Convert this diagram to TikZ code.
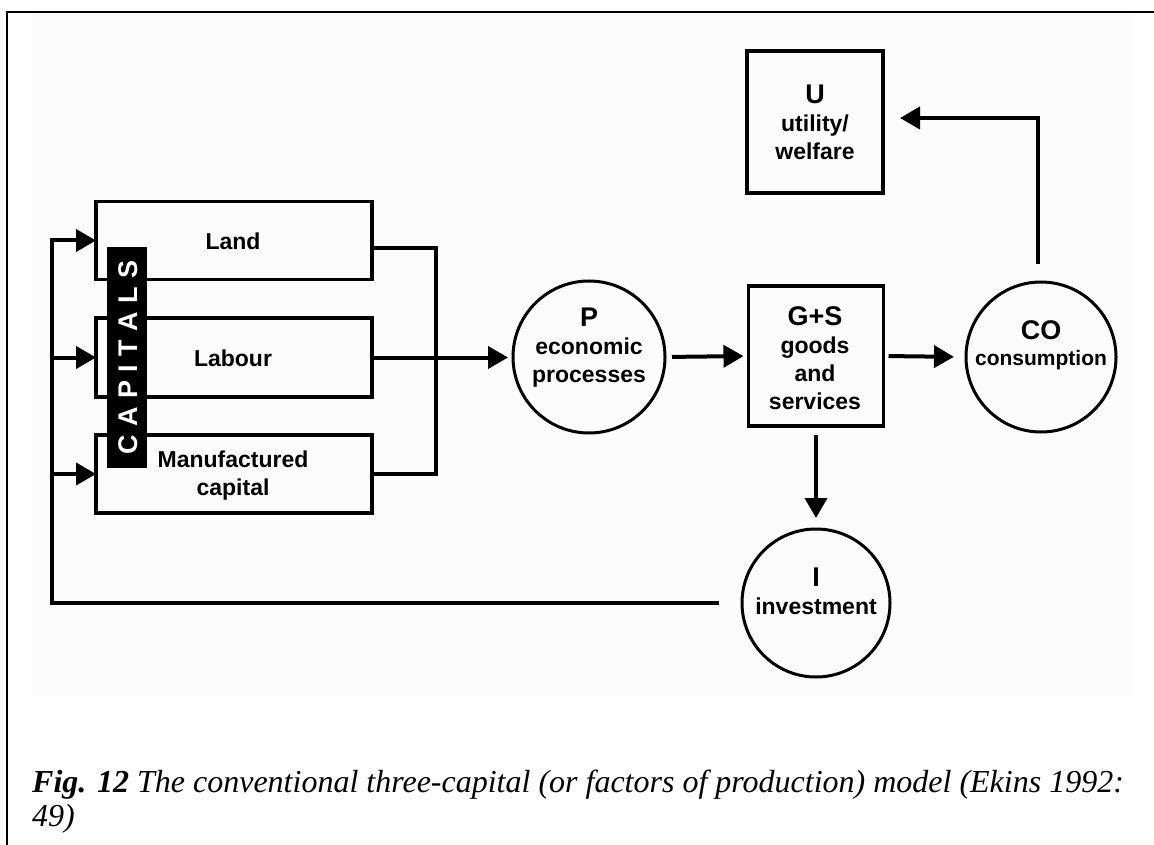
\documentclass[tikz,border=0pt]{standalone}
\usepackage{fontspec}
\setmainfont{Liberation Serif}
\newfontfamily\arialf{Liberation Sans}
\usetikzlibrary{arrows.meta}
\definecolor{bgpale}{RGB}{252,252,252}
\tikzset{
  capbox/.style={draw, line width=3.8pt, inner sep=0pt, outer sep=0pt},
  proc/.style={draw, circle, line width=3pt, inner sep=0pt, outer sep=0pt, minimum size=#1},
  lbl/.style={font=\arialf\bfseries\fontsize{23}{28}\selectfont, align=center, inner sep=0pt},
  conn/.style={line width=4pt, -{Triangle[length=20pt,width=22pt]}},
  plainline/.style={line width=4pt},
  capt/.style={font=\fontsize{32}{34}\selectfont\itshape, anchor=base west, inner sep=0pt}
}
\newcommand{\hd}[1]{{\fontsize{27}{28}\selectfont #1}}
\newcommand{\gp}{\hspace{8.5pt}}
\begin{document}
\begin{tikzpicture}[x=1pt,y=-1pt]
\useasboundingbox (0,0) rectangle (1154,845);
\fill[bgpale] (32,13) rectangle (1133,697);
\draw[line width=2pt] (1160,12) -- (7,12) -- (7,850);

% capital boxes
\node[capbox, minimum width=276pt, minimum height=78pt] (Land) at (234,240.5) {};
\node[capbox, minimum width=276pt, minimum height=79pt] (Lab) at (234,357.5) {};
\node[capbox, minimum width=276pt, minimum height=78pt] (Manu) at (234,474) {};
\node[lbl] (tLand) at (233,241.5) {Land};
\node[lbl] (tLab) at (233,358.5) {Labour};
\node[lbl] (tManu) at (233,476) {Manufactured\\capital};

% CAPITALS bar
\node[fill=black, minimum width=40pt, minimum height=221pt, inner sep=0pt] (bar) at (127,357.5) {};
\node[rotate=90, text=white, font=\arialf\bfseries\fontsize{27}{28}\selectfont, inner sep=0pt] (tbar) at (128,357.5) {C\gp A\gp P\gp I\gp T\gp A\gp L\gp S};

% process nodes
\node[proc=152pt] (P) at (589,357) {};
\node[lbl] (tP) at (589,348) {\hd{P}\\economic\\processes};
\node[capbox, minimum width=135pt, minimum height=140pt] (GS) at (816,356) {};
\node[lbl] (tGS) at (815,358) {\hd{G+S}\\goods\\and\\services};
\node[capbox, minimum width=136pt, minimum height=142pt] (U) at (815,122) {};
\node[lbl] (tU) at (815,122) {\hd{U}\\utility/\\welfare};
\node[proc=150pt] (CO) at (1041,357) {};
\node[lbl, font=\arialf\bfseries\fontsize{21}{26}\selectfont] (tCO) at (1041,345) {\hd{CO}\\consumption};
\node[proc=148pt] (I) at (816,603) {};
\node[lbl] (tI) at (816,591) {\hd{I}\\investment};

% connectors
\coordinate (cx) at (436,358);
\coordinate (fb) at (52,603);
\draw[plainline] ([yshift=-8pt]Land.east) -| (cx) |- (Manu.east);
\draw[conn, shorten >=5pt] (Lab.east) -- (Lab.east -| P.west);
\draw[conn, shorten <=7pt, shorten >=5pt] (P.east) -- (GS.west);
\draw[conn, shorten <=5pt, shorten >=12pt] (GS.east) -- (CO.west);
\draw[conn, shorten <=9pt, shorten >=11pt] (GS.south) -- (I.north);
\draw[conn, shorten <=18pt, shorten >=17pt] ([xshift=-3pt]CO.north) |- ([yshift=4pt]U.east);
\draw[conn, shorten <=23pt] (I.west) -- (fb) |- (Land.west);
\draw[conn] (fb |- Lab.west) -- (Lab.west);
\draw[conn] (fb |- Manu.west) -- (Manu.west);

% caption
\node[capt] (cap1) at (32,792) {\textbf{Fig. 12} The conventional three-capital (or factors of production) model (Ekins 1992:};
\node[capt] (cap2) at (32,826) {49)};
\end{tikzpicture}
\end{document}
